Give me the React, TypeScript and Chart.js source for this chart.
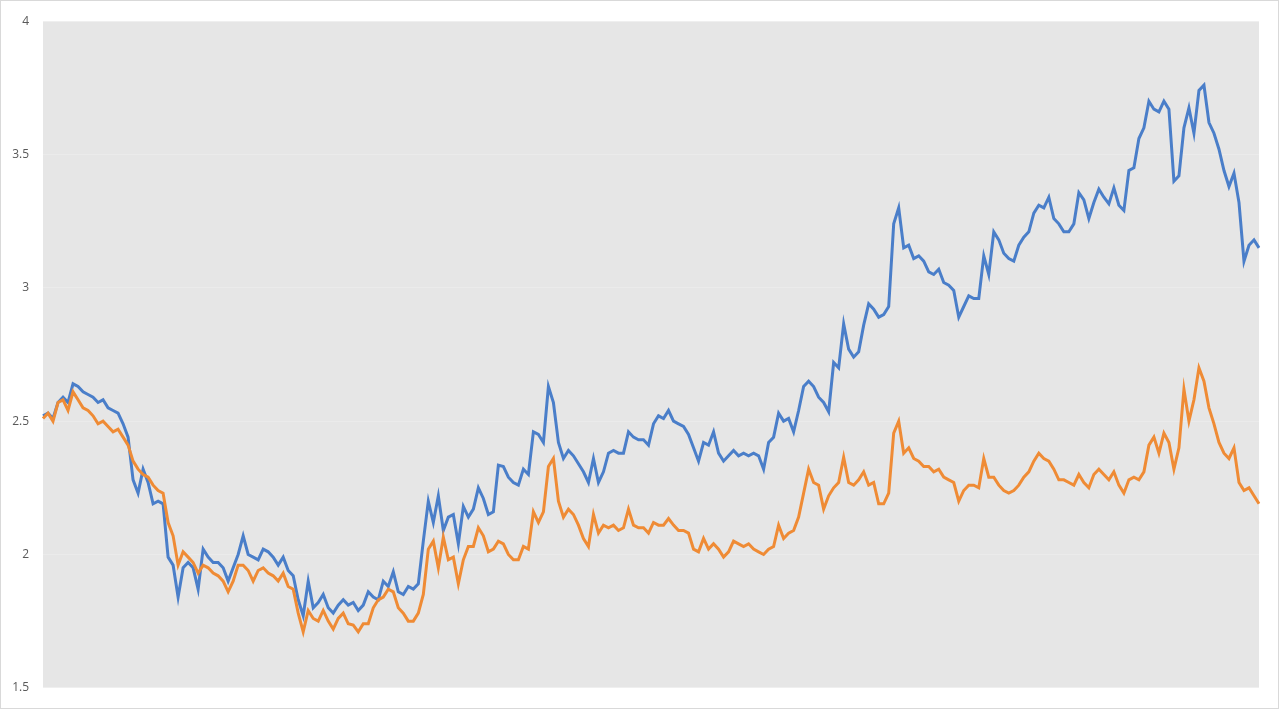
import React, { useEffect, useRef } from "react";
import { Chart, registerables } from "chart.js";

Chart.register(...registerables);

const blueSeries: number[] = [
  2.52, 2.53, 2.51, 2.57, 2.59, 2.57, 2.64, 2.63, 2.61, 2.60,
  2.59, 2.57, 2.58, 2.55, 2.54, 2.53, 2.49, 2.44, 2.28, 2.23,
  2.32, 2.27, 2.19, 2.20, 2.19, 1.99, 1.96, 1.84, 1.95, 1.97,
  1.95, 1.87, 2.02, 1.99, 1.97, 1.97, 1.95, 1.90, 1.95, 2.00,
  2.07, 2.00, 1.99, 1.98, 2.02, 2.01, 1.99, 1.96, 1.99, 1.94,
  1.92, 1.83, 1.77, 1.90, 1.80, 1.82, 1.85, 1.80, 1.78, 1.81,
  1.83, 1.81, 1.82, 1.79, 1.81, 1.86, 1.84, 1.83, 1.90, 1.88,
  1.935, 1.86, 1.85, 1.88, 1.87, 1.89, 2.05, 2.20, 2.12, 2.22,
  2.09, 2.14, 2.15, 2.04, 2.18, 2.14, 2.17, 2.25, 2.21, 2.15,
  2.16, 2.335, 2.33, 2.29, 2.27, 2.26, 2.32, 2.30, 2.46, 2.45,
  2.42, 2.63, 2.57, 2.42, 2.36, 2.39, 2.37, 2.34, 2.31, 2.27,
  2.36, 2.27, 2.31, 2.38, 2.39, 2.38, 2.38, 2.46, 2.44, 2.43,
  2.43, 2.41, 2.49, 2.52, 2.51, 2.54, 2.50, 2.49, 2.48, 2.45,
  2.40, 2.35, 2.42, 2.41, 2.46, 2.38, 2.35, 2.37, 2.39, 2.37,
  2.38, 2.37, 2.38, 2.37, 2.32, 2.42, 2.44, 2.53, 2.50, 2.51,
  2.46, 2.54, 2.63, 2.65, 2.63, 2.59, 2.57, 2.535, 2.72, 2.70,
  2.865, 2.77, 2.74, 2.76, 2.86, 2.94, 2.92, 2.89, 2.90, 2.93,
  3.24, 3.30, 3.15, 3.16, 3.11, 3.12, 3.10, 3.06, 3.05, 3.07,
  3.02, 3.01, 2.99, 2.89, 2.93, 2.97, 2.96, 2.96, 3.12, 3.05,
  3.21, 3.18, 3.13, 3.11, 3.10, 3.16, 3.19, 3.21, 3.28, 3.31,
  3.30, 3.34, 3.26, 3.24, 3.21, 3.21, 3.24, 3.357, 3.33, 3.26,
  3.32, 3.37, 3.34, 3.315, 3.375, 3.31, 3.29, 3.44, 3.45, 3.56,
  3.60, 3.70, 3.67, 3.66, 3.70, 3.67, 3.40, 3.42, 3.60, 3.675,
  3.58, 3.74, 3.76, 3.62, 3.58, 3.52, 3.44, 3.38, 3.43, 3.32,
  3.10, 3.16, 3.18, 3.15,
];

const orangeSeries: number[] = [
  2.51, 2.53, 2.50, 2.57, 2.58, 2.54, 2.61, 2.58, 2.55, 2.54,
  2.52, 2.49, 2.50, 2.48, 2.46, 2.47, 2.44, 2.41, 2.35, 2.32,
  2.30, 2.29, 2.26, 2.24, 2.23, 2.12, 2.07, 1.96, 2.01, 1.99,
  1.97, 1.93, 1.96, 1.95, 1.93, 1.92, 1.90, 1.86, 1.90, 1.96,
  1.96, 1.94, 1.90, 1.94, 1.95, 1.93, 1.92, 1.90, 1.93, 1.88,
  1.87, 1.78, 1.71, 1.79, 1.76, 1.75, 1.79, 1.75, 1.72, 1.76,
  1.78, 1.74, 1.735, 1.71, 1.74, 1.74, 1.80, 1.83, 1.84, 1.87,
  1.86, 1.80, 1.78, 1.75, 1.75, 1.78, 1.85, 2.02, 2.05, 1.95,
  2.065, 1.98, 1.99, 1.89, 1.98, 2.03, 2.03, 2.10, 2.07, 2.01,
  2.02, 2.05, 2.04, 2.00, 1.98, 1.98, 2.03, 2.02, 2.16, 2.12,
  2.16, 2.33, 2.36, 2.20, 2.14, 2.17, 2.15, 2.11, 2.06, 2.03,
  2.15, 2.08, 2.11, 2.10, 2.11, 2.09, 2.10, 2.17, 2.11, 2.10,
  2.10, 2.08, 2.12, 2.11, 2.11, 2.135, 2.11, 2.09, 2.09, 2.08,
  2.02, 2.01, 2.06, 2.02, 2.04, 2.02, 1.99, 2.01, 2.05, 2.04,
  2.03, 2.04, 2.02, 2.01, 2.00, 2.02, 2.03, 2.11, 2.06, 2.08,
  2.09, 2.14, 2.23, 2.32, 2.27, 2.26, 2.17, 2.22, 2.25, 2.27,
  2.365, 2.27, 2.26, 2.28, 2.31, 2.26, 2.27, 2.19, 2.19, 2.23,
  2.455, 2.50, 2.38, 2.40, 2.36, 2.35, 2.33, 2.33, 2.31, 2.32,
  2.29, 2.28, 2.27, 2.20, 2.24, 2.26, 2.26, 2.25, 2.36, 2.29,
  2.29, 2.26, 2.24, 2.23, 2.24, 2.26, 2.29, 2.31, 2.35, 2.38,
  2.36, 2.35, 2.32, 2.28, 2.28, 2.27, 2.26, 2.30, 2.27, 2.25,
  2.30, 2.32, 2.30, 2.28, 2.31, 2.26, 2.23, 2.28, 2.29, 2.28,
  2.31, 2.41, 2.44, 2.38, 2.455, 2.42, 2.32, 2.40, 2.62, 2.50,
  2.58, 2.70, 2.65, 2.55, 2.49, 2.42, 2.38, 2.36, 2.40, 2.27,
  2.24, 2.25, 2.22, 2.19,
];

const categories: string[] = blueSeries.map((_, i) => String(i + 1));

const yTicks: number[] = [1.5, 2, 2.5, 3, 3.5, 4];
const yTickLabels: string[] = ["1.5", "2", "2.5", "3", "3.5", "4"];

const backgroundPlugin = {
  id: "plotBackground",
  beforeDraw(chart: any) {
    const { ctx, chartArea, width, height } = chart;
    ctx.save();
    ctx.fillStyle = "#ffffff";
    ctx.fillRect(0, 0, width, height);
    ctx.strokeStyle = "#d9d9d9";
    ctx.lineWidth = 1;
    ctx.strokeRect(0.5, 0.5, width - 2, height - 1);
    ctx.fillStyle = "#e6e6e6";
    ctx.fillRect(
      chartArea.left,
      chartArea.top,
      chartArea.right - chartArea.left,
      chartArea.bottom - chartArea.top
    );
    ctx.restore();
  },
};

export default function App() {
  const canvasRef = useRef<HTMLCanvasElement | null>(null);

  useEffect(() => {
    document.body.style.margin = "0";
    const canvas = canvasRef.current;
    if (!canvas) return;
    const chart = new Chart(canvas, {
      type: "line",
      data: {
        labels: categories,
        datasets: [
          {
            label: "Series 1",
            data: blueSeries,
            borderColor: "#4a7ec9",
            borderWidth: 3,
            pointRadius: 0,
            tension: 0,
            fill: false,
            order: 2,
          },
          {
            label: "Series 2",
            data: orangeSeries,
            borderColor: "#ef8b35",
            borderWidth: 3,
            pointRadius: 0,
            tension: 0,
            fill: false,
            order: 1,
          },
        ],
      },
      options: {
        animation: false,
        responsive: false,
        maintainAspectRatio: false,
        layout: { padding: { left: 0, top: 20, right: 21, bottom: 21 } },
        plugins: {
          legend: { display: false },
          tooltip: { enabled: false },
        },
        scales: {
          x: {
            display: false,
            offset: false,
          },
          y: {
            min: 1.5,
            max: 4,
            afterBuildTicks(scale: any) {
              scale.ticks = yTicks.map((v) => ({ value: v }));
            },
            afterFit(scale: any) {
              scale.width = 43;
            },
            border: { display: false },
            grid: {
              color: "rgba(255,255,255,0.22)",
              lineWidth: 1,
              drawTicks: false,
            },
            ticks: {
              padding: 14,
              color: "#595959",
              font: { family: "'Open Sans', 'Noto Sans', sans-serif", size: 12 },
              callback: (value: any) => {
                const idx = yTicks.indexOf(Number(value));
                return idx >= 0 ? yTickLabels[idx] : String(value);
              },
            },
          },
        },
      },
      plugins: [backgroundPlugin],
    });
    return () => chart.destroy();
  }, []);

  return (
    <div style={{ width: 1280, height: 709 }}>
      <canvas ref={canvasRef} width={1280} height={709} style={{ display: "block" }} />
    </div>
  );
}
